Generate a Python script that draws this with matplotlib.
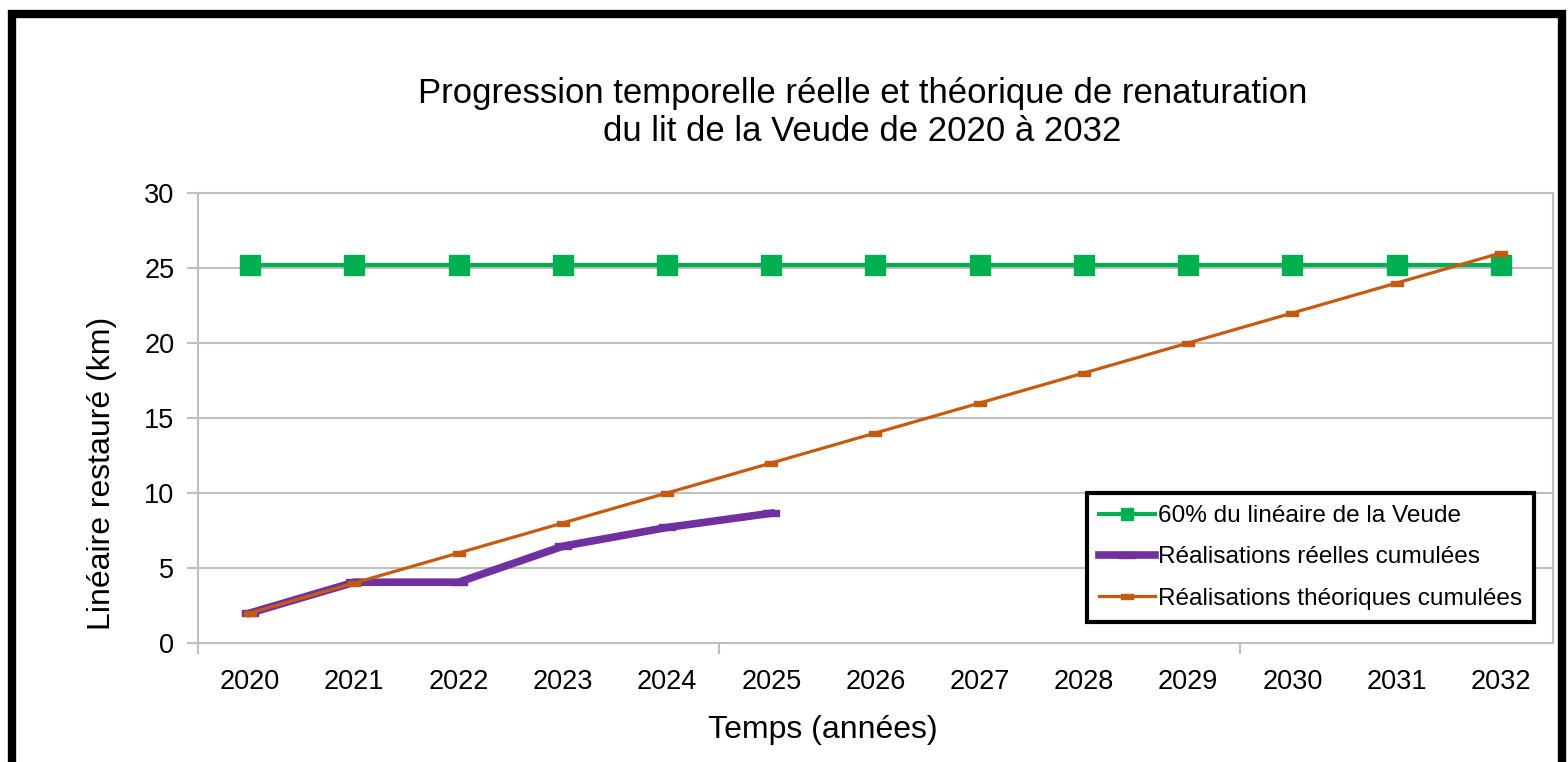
import matplotlib.pyplot as plt
from matplotlib.patches import Rectangle

plt.rcParams['font.family'] = ['Liberation Sans', 'DejaVu Sans']

# Data
years = ['2020', '2021', '2022', '2023', '2024', '2025', '2026',
         '2027', '2028', '2029', '2030', '2031', '2032']
objectif = [25.2] * 13
reel = [2.0, 4.05, 4.05, 6.45, 7.7, 8.65]
theorique = [2, 4, 6, 8, 10, 12, 14, 16, 18, 20, 22, 24, 26]

green = '#00B050'
purple = '#7030A0'
orange = '#C55A11'
grid_col = '#BFBFBF'

fig = plt.figure(figsize=(15.68, 7.62), dpi=100)
ax = fig.add_axes([0.1263, 0.1562, 0.8641, 0.5905])

x = list(range(len(years)))
dash = [(-1, -0.45), (1, -0.45), (1, 0.45), (-1, 0.45), (-1, -0.45)]

ax.plot(x, objectif, color=green, lw=3, marker='s', ms=15, mec=green,
        label='60% du linéaire de la Veude', zorder=3)
ax.plot(x[:len(reel)], reel, color=purple, lw=5.5, marker=dash, ms=11,
        label='Réalisations réelles cumulées', zorder=4)
ax.plot(x, theorique, color=orange, lw=2.3, marker=dash, ms=8,
        label='Réalisations théoriques cumulées', zorder=5)

ax.set_xlim(-0.5, 12.5)
ax.set_ylim(0, 30)
ax.set_yticks(range(0, 31, 5))
ax.yaxis.grid(True, color=grid_col, lw=1.5)
ax.set_axisbelow(True)

ax.set_xticks(x)
ax.set_xticklabels(years)
ax.set_xticks([-0.5, 4.5, 9.5], minor=True)
ax.tick_params(axis='x', which='major', length=0, pad=19, labelsize=19.5)
ax.tick_params(axis='x', which='minor', length=8, width=1.5, color=grid_col)
ax.tick_params(axis='y', length=8, width=1.5, color=grid_col, pad=9, labelsize=19.5)

for s in ax.spines.values():
    s.set_color(grid_col)
    s.set_linewidth(1.5)

ax.set_xlabel('Temps (années)', fontsize=23)
ax.set_ylabel('Linéaire restauré (km)', fontsize=23)
ax.xaxis.set_label_coords(0.461, -0.16)
ax.yaxis.set_label_coords(-0.0595, 0.378)

fig.text(0.55, 0.852, 'Progression temporelle réelle et théorique de renaturation\n'
         'du lit de la Veude de 2020 à 2032', ha='center', va='center',
         fontsize=25, linespacing=1.2)

leg = ax.legend(loc='lower left', bbox_to_anchor=(0.656, 0.047),
                fontsize=17.6, frameon=True, fancybox=False, framealpha=1,
                handlelength=2.3, handletextpad=0.1, borderpad=0.5,
                labelspacing=0.78, borderaxespad=0)
leg.get_frame().set_edgecolor('black')
leg.get_frame().set_linewidth(3)
leg.legend_handles[0].set_markersize(9)

# thick black frame around the whole picture
fig.patches.append(Rectangle((12 / 1568, -0.1), (1562 - 12) / 1568, 1.1 - 14 / 762,
                             transform=fig.transFigure, fill=False,
                             edgecolor='black', lw=6, zorder=10))

fig.savefig('out.png', dpi=100)
